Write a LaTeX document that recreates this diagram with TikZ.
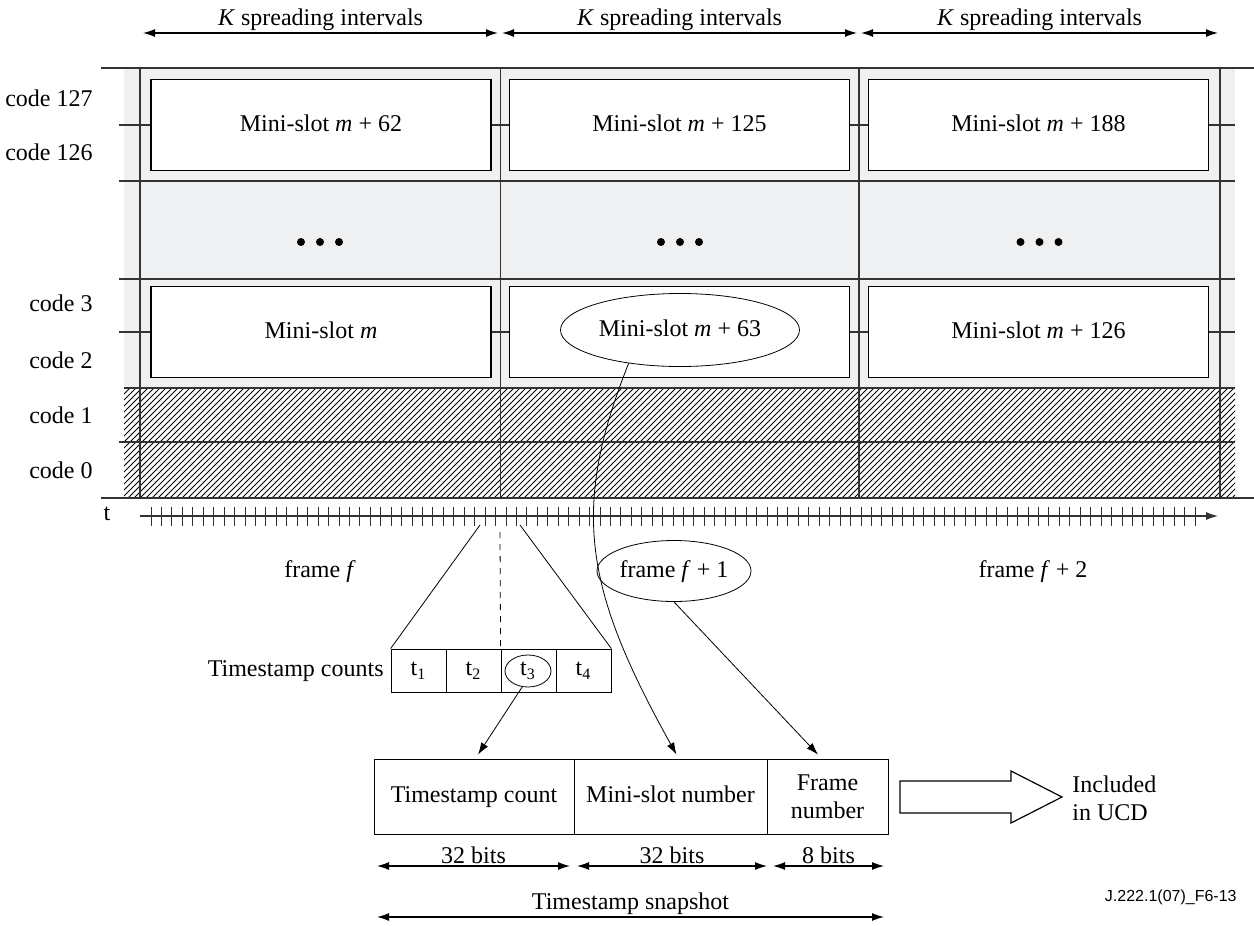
\documentclass[tikz,border=0pt]{standalone}
\usepackage{fontspec}
\setmainfont{Liberation Serif}
\newfontfamily\figfont{Liberation Sans}
\usepackage{tikz}
\usetikzlibrary{arrows.meta,shapes.geometric,patterns,positioning}
\definecolor{cellgray}{HTML}{EFF0F2}
\definecolor{linegray}{HTML}{333333}

\begin{document}
\begin{tikzpicture}
  [x=0.5pt, y=-0.5pt, >={Latex[length=6pt,width=4pt]},
   every node/.style={font=\fontsize{12}{14}\selectfont},
   grid/.style={line width=0.55pt, draw=linegray},
   slot/.style={draw, fill=white, line width=0.55pt, minimum width=170pt, minimum height=45.5pt,
     inner sep=0pt, text height=8.5pt, text depth=2.5pt},
   codelbl/.style={anchor=east, inner sep=0pt},
   oval/.style={draw, ellipse, fill=white, inner sep=0pt, text height=8.5pt, text depth=2.5pt},
   cell/.style={draw, minimum width=27.5pt, minimum height=21.5pt, inner sep=0pt},
   field/.style={draw, minimum height=37.5pt, inner sep=0pt, align=center},
   dim/.style={<->, line width=0.6pt}]
  \useasboundingbox (0,0) rectangle (1254,926);

  % code rows
  \fill[cellgray] (124,68) rectangle (1235,388);
  \fill[pattern=north east lines] (124,388) rectangle (1235,498);
  \draw[grid] (101,68) -- (1254,68);
  \draw[grid] (101,498) -- (1254,498);
  \draw[grid] (124,388) -- (1235,388);
  \foreach \y in {181,279,442,125,332} \draw[grid] (119,\y) -- (1235,\y);
  \foreach \x in {140,500.7,859,1220} \draw[grid] (\x,68) -- (\x,498);

  \node[slot] (s62) at (321,125) {Mini-slot \textit{m} + 62};
  \node[slot] (s125) at (679.5,125) {Mini-slot \textit{m} + 125};
  \node[slot] (s188) at (1038.5,125) {Mini-slot \textit{m} + 188};
  \node[slot] (s0) at (321,332) {Mini-slot \textit{m}};
  \node[slot] (s63) at (679.5,332) {};
  \node[slot] (s126) at (1038.5,332) {Mini-slot \textit{m} + 126};
  \node[oval, minimum width=119.5pt, minimum height=36.5pt] (ms63) at (680,330) {Mini-slot \textit{m} + 63};

  \foreach \x in {320,680,1039.5}
    \foreach \d in {-19,0,19} \fill (\x+\d,242) circle (2pt);

  \node[codelbl] (c127) at (93,98) {code 127};
  \node[codelbl] (c126) at (93,152) {code 126};
  \node[codelbl] (c3) at (93,303) {code 3};
  \node[codelbl] (c2) at (93,360) {code 2};
  \node[codelbl] (c1) at (93,415) {code 1};
  \node[codelbl] (c0) at (93,470) {code 0};

  % spreading intervals
  \foreach \a/\b/\n in {143/498/1,502/857/2,861/1218/3} {
    \coordinate (ka\n) at (\a,33);
    \coordinate (kb\n) at (\b,33);
    \draw[dim] (ka\n) -- node[above, inner sep=1pt] {\textit{K} spreading intervals} (kb\n);
  }

  % time axis
  \node (tl) at (107,514) {t};
  \coordinate (t0) at (140,516);
  \coordinate (tend) at (1218,516);
  \draw[grid,->] (t0) -- (tend);
  \foreach \i in {0,...,100} \draw[linegray] (151+10.44*\i,507) -- (151+10.44*\i,526);

  \node (ff) at (320,572) {frame \textit{f}};
  \node[oval, minimum width=70pt, minimum height=30.5pt] (ff1) at (674,571) {frame \textit{f} + 1};
  \node (ff2) at (1033,572) {frame \textit{f} + 2};

  % timestamp counts
  \node[anchor=east, inner sep=0pt] (tsl) at (384,671) {Timestamp counts};
  \foreach \i/\x in {1/418.5,2/473.5,4/583.5} \node[cell] (t\i) at (\x,670.5) {t\textsubscript{\i}};
  \node[cell] (t3) at (528.5,670.5) {};
  \node[draw, ellipse, minimum width=23pt, minimum height=16pt, inner sep=0pt] (t3o) at (528,671) {t\textsubscript{3}};

  \coordinate (zl) at (480,525);
  \coordinate (zr) at (520,525);
  \coordinate (zm) at (500,532);
  \draw (zl) -- (t1.north west);
  \draw (zr) -- (t4.north east);
  \draw[dashed] (zm) -- (t3.north west);

  % snapshot
  \node[field, minimum width=100pt, text height=8.5pt, text depth=2.5pt] (tsc) at (474,796.5) {Timestamp count};
  \node[field, minimum width=96.5pt, text height=8.5pt, text depth=2.5pt] (msn) at (670.5,796.5) {Mini-slot number};
  \node[field, minimum width=60.5pt] (fn) at (827.5,796.5) {Frame\\number};

  \draw[->] (t3o.250) -- ([xshift=2pt,yshift=2pt]tsc.north);
  \draw[->] (ms63.213) .. controls (570,510) and (585,590) .. ([xshift=3pt,yshift=2pt]msn.north);
  \draw[->] (ff1.south) -- ([xshift=-4.75pt,yshift=2pt]fn.north);

  \draw[line width=0.6pt] (900,781) -- (1011,781) -- (1011,771) -- (1062,797)
    -- (1011,823) -- (1011,813) -- (900,813) -- cycle;
  \node[anchor=west, align=left, inner sep=0pt] (ucd) at (1072,798) {Included\\in UCD};

  \coordinate (w0) at (377,866);
  \coordinate (w1) at (570,866);
  \coordinate (w2) at (577,866);
  \coordinate (w3) at (767,866);
  \coordinate (w4) at (773,866);
  \coordinate (w5) at (884,866);
  \draw[dim] (w0) -- node[above, inner sep=1pt] {32 bits} (w1);
  \draw[dim] (w2) -- node[above, inner sep=1pt] {32 bits} (w3);
  \draw[dim] (w4) -- node[above, inner sep=1pt] {8 bits} (w5);
  \coordinate (sa) at (377,917);
  \coordinate (sb) at (884,917);
  \draw[dim] (sa) -- node[above, inner sep=1pt] {Timestamp snapshot} (sb);

  \node[anchor=east, inner sep=0pt, font=\figfont\fontsize{8}{10}\selectfont] (fid) at (1237,897) {J.222.1(07)\_F6-13};
\end{tikzpicture}
\end{document}
